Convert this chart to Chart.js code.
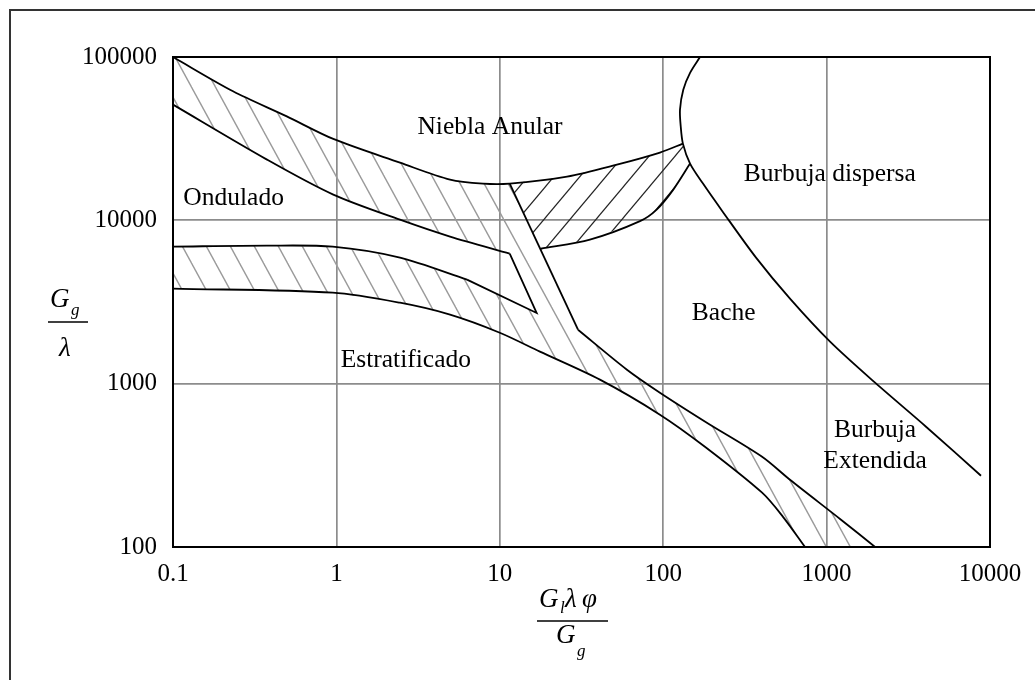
<!DOCTYPE html>
<html>
<head>
<meta charset="utf-8">
<title>Mapa de flujo de Baker</title>
<script src="https://cdn.jsdelivr.net/npm/chart.js@4.4.1/dist/chart.umd.min.js"></script>
<style>
  html, body { margin: 0; padding: 0; background: #fff; }
  canvas { display: block; }
</style>
</head>
<body>
<canvas id="mapChart" width="1035" height="680"></canvas>
<script>
// Axis ticks
const xTicks = [0.1, 1, 10, 100, 1000, 10000];
const xTickLabels = ['0.1', '1', '10', '100', '1000', '10000'];
const yTicks = [100, 1000, 10000, 100000];
const yTickLabels = ['100', '1000', '10000', '100000'];

// Boundary curves as [x, y] pairs
const curveA = [[0.1, 100000], [0.233, 61700], [0.497, 43300], [0.957, 31500], [2.45, 22550], [4.96, 17750], [7.89, 16780], [11.5, 16780], [25.8, 18520], [52.1, 21930], [95.5, 26000], [132, 29500]];
const curveB = [[0.1, 51100], [0.376, 23540], [0.957, 14370], [2.45, 10090], [4.96, 7950], [11.5, 6250]];
const notch = [[11.5, 6250], [16.8, 2710], [6.3, 4335]];
const curveC = [[0.1, 6900], [0.376, 7000], [0.95, 6900], [2.45, 5910], [6.3, 4335]];
const curveD = [[0.1, 3820], [0.95, 3610], [2.45, 3130], [4.96, 2646], [10.0, 2050], [17.6, 1570], [41.0, 1058], [95.5, 646], [180, 411], [403, 215], [541, 153], [738, 100]];
const curveE1 = [[11.5, 16780], [30.1, 2140]];
const curveE2 = [[30.1, 2140], [60.0, 1218], [95.5, 881], [185, 577], [403, 357], [597, 258], [1225, 147], [1980, 100]];
const curveF = [[168, 100000], [146, 80000], [132.7, 63100], [126.7, 47600], [128, 37650], [132, 29500], [146, 22250], [175.2, 16780], [229, 11460], [370, 5910], [597, 3315], [1050, 1808], [1980, 1014], [4060, 545], [8810, 273]];
const curveG = [[17.8, 6700], [35.6, 7620], [72.1, 9890], [91.2, 11640], [115.3, 15420], [146, 22250]];

// Region names and where they sit (data coordinates)
const regionNames = ['Niebla Anular', 'Ondulado', 'Burbuja dispersa', 'Bache', 'Estratificado', 'Burbuja', 'Extendida'];
const regionX = [8.71, 0.235, 1045, 234.5, 2.66, 1978, 1978];
const regionY = [37200, 13710, 19190, 2684, 1383, 515, 334];

// Hatched zones built from the curves above
const grayZone = [].concat(
    curveA.slice(0, 8),
    curveE1.slice(1),
    curveE2.slice(1),
    curveD.slice().reverse(),
    curveC,
    [notch[1]],
    curveB.slice().reverse()
);
const blackZone = [].concat(
    curveA.slice(7),
    curveF.slice(6, 7),
    curveG.slice(0, 5).reverse()
);

const serif = '"Liberation Serif", "Times New Roman", serif';

function hatch(w, h, color, width, back) {
    const c = document.createElement('canvas');
    c.width = w;
    c.height = h;
    const g = c.getContext('2d');
    g.strokeStyle = color;
    g.lineWidth = width;
    for (let k = -1; k <= 1; k++) {
        g.beginPath();
        if (back) {            // "\" lines
            g.moveTo(k * w - w, -h);
            g.lineTo(k * w + 2 * w, 2 * h);
        } else {               // "/" lines
            g.moveTo(k * w - w, 2 * h);
            g.lineTo(k * w + 2 * w, -h);
        }
        g.stroke();
    }
    return g.createPattern(c, 'repeat');
}

const pts = arr => arr.map(p => ({ x: p[0], y: p[1] }));

function curve(arr, tension) {
    return {
        data: pts(arr), showLine: true, fill: false,
        borderColor: '#000', borderWidth: 1.8,
        pointRadius: 0, tension: tension
    };
}

function zone(arr, pattern) {
    return {
        data: pts(arr), showLine: true, fill: 'shape',
        backgroundColor: pattern, borderColor: 'rgba(0,0,0,0)', borderWidth: 0,
        pointRadius: 0, tension: 0
    };
}

// Frame, plot border, region names and the two fraction titles
const decorations = {
    id: 'decorations',
    beforeDraw(chart) {
        const ctx = chart.ctx;
        ctx.save();
        ctx.strokeStyle = '#333';
        ctx.lineWidth = 2;
        ctx.beginPath();
        ctx.moveTo(10, chart.height);
        ctx.lineTo(10, 10);
        ctx.lineTo(chart.width, 10);
        ctx.stroke();
        ctx.restore();
    },
    afterDraw(chart) {
        const { ctx, chartArea: a, scales: { x, y } } = chart;
        ctx.save();
        ctx.strokeStyle = '#000';
        ctx.lineWidth = 2;
        ctx.strokeRect(a.left, a.top, a.right - a.left, a.bottom - a.top);

        ctx.fillStyle = '#000';
        ctx.font = '25.5px ' + serif;
        ctx.textAlign = 'center';
        ctx.textBaseline = 'middle';
        regionNames.forEach((name, i) => {
            ctx.fillText(name, x.getPixelForValue(regionX[i]), y.getPixelForValue(regionY[i]));
        });

        ctx.textAlign = 'left';
        ctx.textBaseline = 'alphabetic';
        const big = 'italic 27px ' + serif;
        const small = 'italic 17px ' + serif;
        ctx.lineWidth = 1.3;

        // y title: Gg / λ
        ctx.font = big;   ctx.fillText('G', 50, 307);
        ctx.font = small; ctx.fillText('g', 71, 315);
        ctx.beginPath(); ctx.moveTo(48, 322); ctx.lineTo(88, 322); ctx.stroke();
        ctx.font = big;   ctx.fillText('λ', 59, 356);

        // x title: Gl λ φ / Gg
        ctx.font = big;   ctx.fillText('G', 539, 607);
        ctx.font = small; ctx.fillText('l', 560, 613);
        ctx.font = big;   ctx.fillText('λ', 565, 607);
        ctx.fillText('φ', 582, 607);
        ctx.beginPath(); ctx.moveTo(537, 621); ctx.lineTo(608, 621); ctx.stroke();
        ctx.font = big;   ctx.fillText('G', 556, 643);
        ctx.font = small; ctx.fillText('g', 577, 656);
        ctx.restore();
    }
};

const grayHatch = hatch(24, 44, '#9a9a9a', 1.4, true);
const blackHatch = hatch(26, 31, '#222', 1.2, false);

new Chart(document.getElementById('mapChart'), {
    type: 'scatter',
    data: {
        datasets: [
            curve(curveA, 0.3),
            curve(curveB, 0.3),
            curve(notch, 0),
            curve(curveC, 0.3),
            curve(curveD, 0.3),
            curve(curveE1, 0),
            curve(curveE2, 0.3),
            curve(curveF, 0.3),
            curve(curveG, 0.3),
            zone(blackZone, blackHatch),
            zone(grayZone, grayHatch)
        ]
    },
    options: {
        responsive: false,
        animation: false,
        events: [],
        layout: { padding: { top: 57, right: 45, bottom: 0, left: 0 } },
        plugins: {
            legend: { display: false },
            tooltip: { enabled: false }
        },
        scales: {
            x: {
                type: 'logarithmic',
                min: 0.1,
                max: 10000,
                afterBuildTicks: axis => { axis.ticks = xTicks.map(v => ({ value: v })); },
                afterFit: axis => { axis.height = 133; },
                ticks: {
                    autoSkip: false,
                    maxRotation: 0,
                    padding: 12,
                    color: '#000',
                    font: { family: serif, size: 25 },
                    callback: (v, i) => xTickLabels[i]
                },
                grid: { color: '#8c8c8c', lineWidth: 1.7, drawTicks: false },
                border: { display: true, color: '#000', width: 2 }
            },
            y: {
                type: 'logarithmic',
                min: 100,
                max: 100000,
                afterBuildTicks: axis => { axis.ticks = yTicks.map(v => ({ value: v })); },
                afterFit: axis => { axis.width = 173; },
                ticks: {
                    autoSkip: false,
                    padding: 16,
                    color: '#000',
                    font: { family: serif, size: 25 },
                    callback: (v, i) => yTickLabels[i]
                },
                grid: { color: '#8c8c8c', lineWidth: 1.7, drawTicks: false },
                border: { display: true, color: '#000', width: 2 }
            }
        }
    },
    plugins: [decorations]
});
</script>
</body>
</html>
